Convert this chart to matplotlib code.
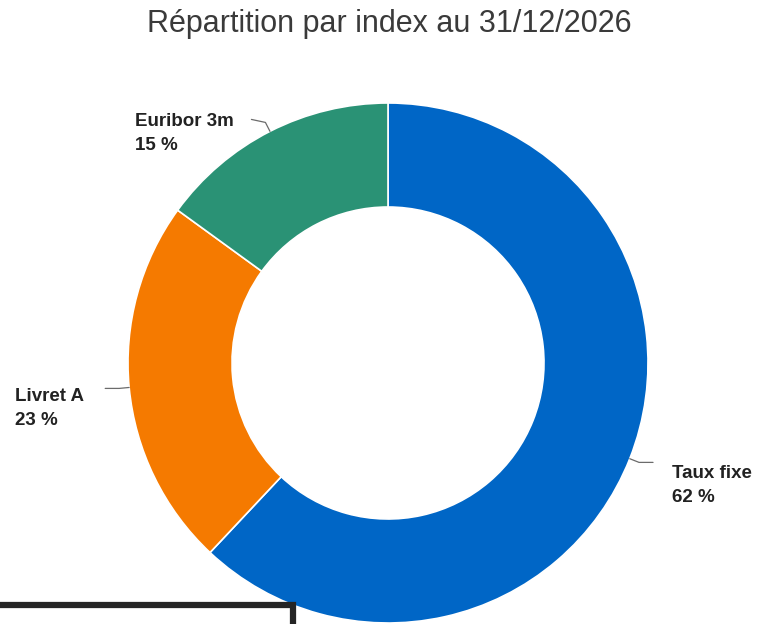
import numpy as np
import matplotlib
matplotlib.use("Agg")
import matplotlib.pyplot as plt
from matplotlib.patches import Rectangle

plt.rcParams['font.family'] = ['Liberation Sans', 'DejaVu Sans']

title = "Répartition par index au 31/12/2026"
categories = ["Taux fixe", "Livret A", "Euribor 3m"]
values = [62, 23, 15]
colors = ["#0066C6", "#F57A00", "#2A9275"]

W, H = 757, 624
fig = plt.figure(figsize=(W / 100, H / 100), dpi=100)
ax = fig.add_axes([0, 0, 1, 1])

cx, cy = 388, H - 363
R = 260
width = 0.4

wedges, _ = ax.pie(values, colors=colors, startangle=90, counterclock=False,
                   center=(cx, cy), radius=R,
                   wedgeprops=dict(width=R * width, edgecolor="white", linewidth=1.2))
ax.set_xlim(0, W)
ax.set_ylim(0, H)
ax.set_aspect('equal')
ax.axis('off')

# title
ax.text(389, H - 32, title, ha='center', va='baseline', fontsize=22, color='#3a3a3a')

# labels with leader lines
label_pos = {  # (x of text left, baseline of first line in pixels from top)
    "Taux fixe": (672, 478, +1),
    "Livret A": (15, 401, -1),
    "Euribor 3m": (135, 126, -1),
}
total = sum(values)
cum = 0
for cat, v, col in zip(categories, values, colors):
    mid = 90 - (cum + v / 2) / total * 360
    cum += v
    a = np.deg2rad(mid)
    p0 = (cx + R * np.cos(a), cy + R * np.sin(a))
    dr = 10
    p1 = (cx + (R + dr) * np.cos(a), cy + (R + dr) * np.sin(a))
    tx, tyb, side = label_pos[cat]
    p2 = (p1[0] + side * 14, p1[1] + (3 if cat == "Euribor 3m" else 0))
    ax.plot([p0[0], p1[0], p2[0]], [p0[1], p1[1], p2[1]], color="#6b6b6b",
            lw=0.9, solid_capstyle='round')
    ax.text(tx, H - tyb, cat, ha='left', va='baseline', fontsize=13.5,
            fontweight='bold', color='#222222')
    ax.text(tx, H - tyb - 24, f"{v} %", ha='left', va='baseline', fontsize=13.5,
            fontweight='bold', color='#222222')

# dark framed box at bottom left
ax.add_patch(Rectangle((-20, -40), 313, H - 605 + 40, fill=False,
                       edgecolor="#252525", linewidth=4.5, clip_on=False))

fig.savefig("out.png", dpi=100)
